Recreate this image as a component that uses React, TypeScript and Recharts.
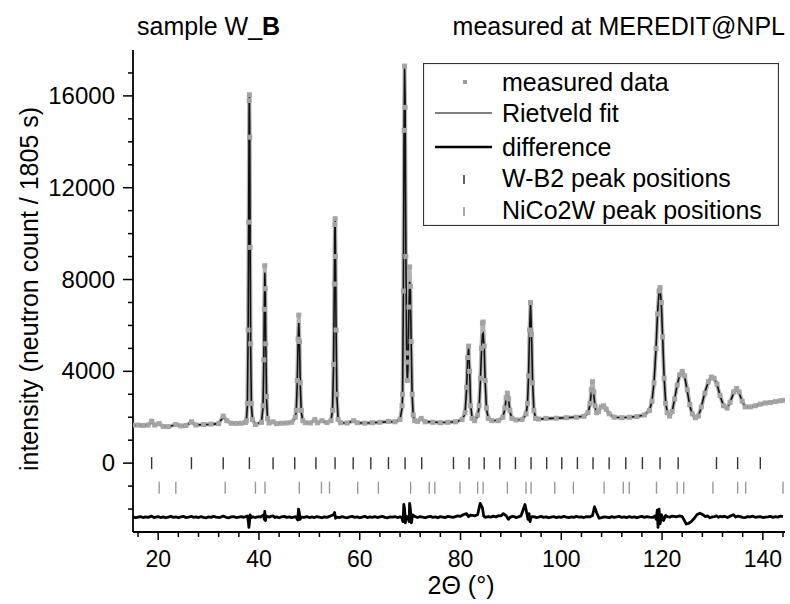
import React from "react";
import { ComposedChart, Line, Scatter, XAxis, YAxis, Legend } from "recharts";

const FONT = "'Liberation Sans', Arial, sans-serif";

// 2theta grid of the measured pattern (deg)
const twoTheta = [
  15.0, 16.0, 17.0, 18.0, 18.7, 19.3, 20.2, 21.0, 22.0, 23.5, 24.5, 25.5, 26.6, 27.5, 29.0, 30.5, 32.0, 32.9, 33.6,
  34.5, 35.5, 36.5, 37.3, 37.5, 37.7, 37.85, 37.95, 38.05, 38.1, 38.17, 38.25, 38.35, 38.5, 38.7, 39.3, 40.5, 40.8,
  40.95, 41.05, 41.15, 41.25, 41.35, 41.5, 41.7, 42.0, 42.8, 43.5, 44.5, 45.5, 46.5, 47.2, 47.4, 47.6, 47.75, 47.9,
  48.05, 48.2, 48.4, 48.7, 49.2, 50.2, 51.1, 51.6, 52.5, 53.5, 54.3, 54.6, 54.8, 54.95, 55.05, 55.12, 55.2, 55.3,
  55.45, 55.7, 56.2, 57.5, 58.8, 59.5, 61.0, 62.5, 64.0, 65.7, 67.0, 68.0, 68.4, 68.5, 68.65, 68.8, 68.9, 69.0,
  69.15, 69.3, 69.45, 69.6, 69.75, 69.9, 70.05, 70.2, 70.4, 70.6, 70.9, 71.5, 72.2, 73.0, 74.5, 76.0, 77.5, 79.0,
  80.3, 80.9, 81.2, 81.4, 81.6, 81.8, 82.0, 82.3, 82.8, 83.4, 83.7, 83.95, 84.15, 84.35, 84.5, 84.7, 84.9, 85.15,
  85.5, 86.2, 87.5, 88.4, 88.8, 89.05, 89.3, 89.55, 89.8, 90.2, 91.0, 92.2, 93.0, 93.3, 93.5, 93.7, 93.9, 94.1,
  94.3, 94.55, 94.9, 95.5, 97.0, 99.0, 101.0, 103.0, 104.5, 105.3, 105.7, 105.95, 106.2, 106.45, 106.7, 107.0,
  107.4, 107.9, 108.4, 108.9, 109.5, 110.5, 112.0, 113.5, 115.0, 116.5, 117.5, 118.0, 118.4, 118.8, 119.1, 119.4,
  119.6, 119.85, 120.1, 120.4, 120.7, 121.0, 121.5, 122.0, 122.5, 123.0, 123.5, 124.0, 124.5, 125.0, 125.5, 126.0,
  126.6, 127.2, 127.8, 128.5, 129.2, 129.8, 130.3, 130.9, 131.5, 132.2, 132.9, 133.5, 134.2, 134.8, 135.3, 135.9,
  136.5, 137.5, 138.5, 139.5, 140.5, 141.5, 142.5, 143.5, 144.4,
];

const measured = [
  1650, 1660, 1640, 1660, 1830, 1660, 1720, 1600, 1590, 1680, 1620, 1640, 1800, 1660, 1680, 1700, 1720, 2050, 1850,
  1740, 1730, 1740, 1770, 1850, 2600, 5800, 10500, 15800, 16050, 14200, 9400, 5200, 2600, 1900, 1680, 1780, 2500,
  4500, 6700, 8600, 7600, 5200, 2900, 1950, 1750, 1800, 1720, 1740, 1750, 1780, 2000, 2300, 3600, 5400, 6450,
  5300, 3500, 2300, 1850, 1760, 1750, 1900, 1760, 1850, 1770, 1850, 2300, 4300, 7800, 10400, 10650, 9000, 5800,
  3000, 1900, 1760, 1750, 1850, 1760, 1740, 1760, 1780, 1820, 1800, 1900, 2500, 3000, 7500, 14500, 17300, 15500,
  9000, 4800, 3600, 4400, 6800, 8550, 7700, 5300, 3000, 2100, 1850, 1820, 1950, 1800, 1780, 1760, 1780, 1800,
  1900, 2200, 3300, 4600, 5100, 4000, 2500, 1950, 1850, 2100, 2500, 3700, 5000, 6100, 6150, 5100, 3600, 2400,
  1950, 1850, 1850, 2000, 2400, 2850, 3050, 2800, 2300, 1950, 1880, 1900, 2150, 2600, 3800, 5800, 7000, 5600,
  3500, 2300, 1950, 1920, 1950, 1960, 1980, 2000, 2040, 2200, 2600, 3200, 3550, 3100, 2500, 2200,
  2250, 2450, 2500, 2350, 2150, 2000, 1980, 2000, 2030, 2100, 2300, 2700, 3500, 5000, 6500, 7500,
  7650, 7000, 5500, 3700, 2600, 2200, 2050, 2250, 2800, 3400, 3850, 4000, 3800, 3200, 2550, 2150,
  1980, 2050, 2450, 3050, 3550, 3750, 3700, 3450, 2950, 2500, 2400, 2650, 3100, 3250, 3100, 2700,
  2450, 2450, 2500, 2570, 2620, 2640, 2680, 2720, 2740,
];

const rietveldFit = [
  1640, 1650, 1645, 1650, 1800, 1660, 1700, 1610, 1600, 1660, 1630, 1640, 1780, 1660, 1680, 1690, 1720, 2020, 1840,
  1740, 1730, 1740, 1770, 1850, 2500, 5600, 10400, 15600, 16000, 14300, 9500, 5000, 2500, 1950, 1700, 1800, 2400,
  4300, 6500, 8300, 7700, 5300, 2800, 1950, 1760, 1780, 1740, 1740, 1750, 1790, 1950, 2250, 3500, 5200, 6100,
  5200, 3400, 2200, 1850, 1760, 1760, 1860, 1760, 1820, 1770, 1850, 2300, 4200, 7600, 10300, 10600, 9000, 5900,
  3000, 1900, 1760, 1750, 1830, 1760, 1750, 1760, 1780, 1800, 1810, 1900, 2400, 2900, 7200, 14300, 17200, 15800,
  9500, 5000, 3500, 4400, 6600, 7900, 7500, 5400, 3000, 2100, 1850, 1830, 1930, 1810, 1790, 1770, 1780, 1800,
  1880, 2150, 3200, 4500, 5000, 4100, 2600, 1950, 1850, 2050, 2450, 3600, 4800, 5600, 5650, 5000, 3500, 2400,
  1950, 1860, 1860, 1980, 2350, 2800, 3000, 2750, 2250, 1950, 1880, 1900, 2100, 2600, 3800, 5700, 6950, 5600,
  3600, 2350, 1950, 1920, 1940, 1960, 1980, 2010, 2040, 2150, 2550, 3050, 3270, 3000, 2450, 2200,
  2250, 2450, 2520, 2380, 2150, 2000, 1990, 2000, 2030, 2100, 2300, 2700, 3500, 5000, 6500, 7450,
  7600, 7000, 5600, 3800, 2700, 2250, 2050, 2250, 2800, 3400, 3850, 3980, 3750, 3150, 2500, 2120,
  1960, 2030, 2450, 3100, 3550, 3720, 3700, 3450, 2950, 2500, 2380, 2650, 3050, 3200, 3050, 2700,
  2450, 2450, 2500, 2560, 2620, 2640, 2680, 2720, 2740,
];

// difference curve (already shifted below the tick rows)
const diffTheta = [
  15, 15.5, 16, 16.5, 17, 17.5, 18, 18.7, 19.2, 19.5, 20.0, 20.5, 21.0, 21.5, 22.0, 22.5, 23.0, 23.5, 24.0, 24.5,
  25.0, 25.5, 26.0, 26.6, 27.0, 27.5, 28.0, 28.5, 29.0, 29.5, 30.0, 30.5, 31.0, 31.5, 32.2, 32.9, 33.5, 34, 34.5,
  35, 35.5, 36, 36.5, 37, 37.7, 37.9, 38.0, 38.1, 38.25, 38.4, 38.8, 39.2, 39.5, 40.0, 40.3, 40.9, 41.05, 41.15,
  41.3, 41.45, 42, 42.4, 42.8, 43.2, 43.5, 44.0, 44.5, 45.0, 45.5, 46.0, 46.5, 47.3, 47.7, 47.85, 48.0, 48.15,
  48.4, 49, 49.5, 50, 50.5, 51, 51.5, 52, 52.5, 53, 53.5, 54, 54.8, 55.0, 55.2, 55.5, 56.0, 56.5, 57.0, 57.5, 58.0,
  58.5, 59.0, 59.5, 60.0, 60.5, 61.0, 61.5, 62.0, 62.5, 63.0, 63.5, 64.0, 64.5, 65.0, 65.5, 66.0, 66.5, 67.0,
  67.5, 68.0, 68.3, 68.6, 68.75, 68.9, 69.05, 69.2, 69.6, 69.8, 69.9, 70.05, 70.25, 70.5, 70.9, 71.5, 72.0, 72.5,
  73.0, 73.5, 74.0, 74.5, 75.0, 75.5, 76.0, 76.5, 77.0, 77.5, 78.0, 78.5, 79.0, 79.5, 80.0, 80.5, 81.2, 81.6,
  82.0, 82.4, 82.8, 83.4, 83.9, 84.35, 84.6, 84.9, 85.5, 86.0, 86.5, 87.0, 87.5, 88.0, 88.5, 89.1, 89.5, 89.8,
  90.3, 90.7, 91, 91.5, 92, 92.8, 93.4, 93.6, 93.8, 94.0, 94.3, 94.7, 95, 95.5, 96, 96.5, 97, 97.5, 98, 98.5, 99,
  99.5, 100, 100.5, 101, 101.5, 102, 102.5, 103, 103.5, 104, 104.5, 105, 105.7, 106.2, 106.6, 107.0, 107.5, 108.0,
  108.5, 109.0, 109.5, 110.0, 110.5, 111.0, 111.5, 112.0, 112.5, 113.0, 113.5, 114.0, 114.5, 115.0, 115.5, 116.0,
  116.5, 117.0, 117.5, 118.2, 118.6, 118.85, 119.05, 119.2, 119.4, 119.6, 119.9, 120.3, 120.7, 121, 121.5, 122,
  122.4, 122.8, 123.5, 124.0, 124.3, 124.8, 125.3, 125.8, 126.4, 126.9, 127.5, 128.2, 128.6, 129, 129.5, 130,
  130.4, 130.8, 131.2, 131.5, 132.0, 132.3, 133, 133.6, 134.2, 134.6, 135, 135.5, 136, 136.5, 137, 137.5, 138,
  138.5, 139, 139.5, 140, 140.5, 141, 141.5, 142, 142.5, 143, 143.5, 144,
];

const difference = [
  -2340, -2380, -2350, -2330, -2370, -2340, -2360, -2310, -2370, -2350, -2330, -2370, -2340, -2380, -2350, -2320,
  -2360, -2340, -2380, -2340, -2320, -2370, -2350, -2320, -2360, -2340, -2370, -2330, -2360, -2380, -2340, -2360,
  -2320, -2350, -2370, -2310, -2360, -2380, -2340, -2330, -2370, -2350, -2330, -2360, -2300, -2550, -2800, -2600,
  -2250, -2380, -2340, -2370, -2350, -2330, -2350, -2250, -2450, -2100, -2500, -2300, -2350, -2320, -2300, -2370,
  -2340, -2380, -2340, -2320, -2360, -2340, -2370, -2330, -2480, -2000, -2150, -2450, -2350, -2360, -2330, -2370,
  -2340, -2370, -2330, -2350, -2380, -2340, -2360, -2320, -2250, -2150, -2400, -2350, -2370, -2330, -2360, -2380,
  -2340, -2320, -2360, -2340, -2380, -2350, -2320, -2370, -2340, -2360, -2330, -2370, -2340, -2320, -2360, -2380,
  -2340, -2350, -2330, -2370, -2340, -2360, -2550, -1800, -2000, -2600, -2300, -2400, -2550, -1750, -2000, -2600,
  -2250, -2320, -2370, -2330, -2350, -2380, -2340, -2320, -2360, -2340, -2380, -2330, -2350, -2370, -2320, -2340,
  -2360, -2330, -2300, -2320, -2250, -2200, -2330, -2260, -2280, -2300, -2250, -1750, -1950, -2300, -2360, -2330,
  -2350, -2310, -2340, -2290, -2300, -2200, -2300, -2450, -2360, -2320, -2330, -2370, -2340, -2300, -1800, -2450,
  -2200, -2550, -2360, -2330, -2340, -2370, -2350, -2320, -2360, -2340, -2380, -2350, -2330, -2370, -2340, -2360,
  -2320, -2350, -2370, -2340, -2360, -2320, -2350, -2340, -2370, -2330, -2340, -2280, -1900, -2150, -2400, -2370,
  -2340, -2350, -2380, -2330, -2360, -2340, -2320, -2360, -2340, -2370, -2330, -2360, -2340, -2380, -2340, -2320,
  -2360, -2330, -2350, -2360, -2300, -2450, -2050, -2800, -2000, -2650, -2250, -2500, -2280, -2330, -2350, -2310,
  -2320, -2340, -2300, -2330, -2450, -2650, -2620, -2550, -2400, -2250, -2180, -2260, -2330, -2300, -2380, -2340,
  -2330, -2300, -2360, -2320, -2340, -2310, -2370, -2300, -2250, -2350, -2310, -2330, -2360, -2370, -2330, -2340,
  -2310, -2360, -2340, -2330, -2370, -2350, -2340, -2320, -2360, -2330, -2350, -2310, -2330, -2300,
];

// reflection positions (deg)
const wb2Peaks = [
  18.7, 26.6, 32.9, 38.1, 42.8, 47.1, 51.3, 55.1, 58.7, 62.2, 65.7, 69.0, 72.3, 78.6, 81.7, 84.7, 87.8, 90.9,
  94.0, 97.1, 100.1, 103.2, 106.3, 109.5, 112.8, 116.1, 119.6, 123.2, 130.8, 135.0, 139.5,
];
const nico2wPeaks = [
  20.2, 23.5, 33.3, 39.3, 41.2, 48.0, 52.4, 54.0, 59.6, 63.7, 70.1, 73.8, 74.9, 79.9, 83.4, 84.5, 89.3, 93.0,
  94.0, 98.7, 102.4, 108.5, 112.3, 113.5, 118.9, 123.0, 124.3, 130.1, 135.0, 136.6, 144.0,
];
const WB2_ROW = 0;
const NICO_ROW = -1070;

const xTicks = [
  16, 20, 24, 28, 32, 36, 40, 44, 48, 52, 56, 60, 64, 68, 72, 76, 80, 84, 88, 92, 96, 100, 104, 108, 112, 116, 120,
  124, 128, 132, 136, 140, 144,
];
const yTicks = [
  -2000, -1000, 0, 1000, 2000, 3000, 4000, 5000, 6000, 7000, 8000, 9000, 10000, 11000, 12000, 13000, 14000, 15000,
  16000, 17000,
];

const measuredRows = twoTheta.map((x, i) => ({ x, y: measured[i] }));
const fitRows = twoTheta.map((x, i) => ({ x, y: rietveldFit[i] }));
const diffRows = diffTheta.map((x, i) => ({ x, y: difference[i] }));
const wb2Rows = wb2Peaks.map((x) => ({ x, y: WB2_ROW }));
const nicoRows = nico2wPeaks.map((x) => ({ x, y: NICO_ROW }));

const BottomTick = ({ x, y, payload }: any) => {
  const major = payload.value % 20 === 0;
  return (
    <g>
      <line x1={x} x2={x} y1={y} y2={y + (major ? 8 : 5)} stroke="#000" strokeWidth={1.5} />
      {major && (
        <text x={x} y={y + 35} textAnchor="middle" fontSize={23} fontFamily={FONT} fill="#000">
          {payload.value}
        </text>
      )}
    </g>
  );
};

const TopTick = ({ x, y, payload }: any) => {
  const major = payload.value % 20 === 0;
  return <line x1={x} x2={x} y1={y} y2={y + (major ? 8 : 4)} stroke="#000" strokeWidth={1.5} />;
};

const LeftTick = ({ x, y, payload }: any) => {
  const major = payload.value >= 0 && payload.value % 4000 === 0;
  return (
    <g>
      <line x1={x} x2={x - (major ? 10 : 5)} y1={y} y2={y} stroke="#000" strokeWidth={1.5} />
      {major && (
        <text x={x - 18} y={y + 8} textAnchor="end" fontSize={24} fontFamily={FONT} fill="#000">
          {payload.value}
        </text>
      )}
    </g>
  );
};

const RightTick = ({ x, y, payload }: any) => {
  const major = payload.value >= 0 && payload.value % 4000 === 0;
  return <line x1={x} x2={x - (major ? 7 : 4)} y1={y} y2={y} stroke="#000" strokeWidth={1.5} />;
};

const SquareDot = (p: any) => (
  <rect key={`m-${p.index}`} x={p.cx - 2.5} y={p.cy - 2.5} width={5} height={5} fill="#a4a4a4" />
);

const tickMark = (color: string) => (p: any) =>
  <line x1={p.cx} x2={p.cx} y1={p.cy - 6} y2={p.cy + 6} stroke={color} strokeWidth={1.4} />;

const LegendBox = () => (
  <svg width={356} height={163} style={{ display: "block" }}>
    <rect x={0.5} y={0.5} width={355} height={162} fill="#fff" stroke="#333" strokeWidth={1.2} />
    <rect x={40} y={17} width={4} height={4} fill="#9b9b9b" />
    <line x1={12} x2={69} y1={50} y2={50} stroke="#555" strokeWidth={1.3} />
    <line x1={12} x2={69} y1={84} y2={84} stroke="#000" strokeWidth={2.4} />
    <line x1={41} x2={41} y1={112} y2={121} stroke="#222" strokeWidth={1.4} />
    <line x1={41} x2={41} y1={144} y2={153} stroke="#888" strokeWidth={1.4} />
    <g fontFamily={FONT} fontSize={25} fill="#000">
      <text x={79} y={28}>measured data</text>
      <text x={79} y={59}>Rietveld fit</text>
      <text x={79} y={93}>difference</text>
      <text x={79} y={124}>W-B2 peak positions</text>
      <text x={79} y={156}>NiCo2W peak positions</text>
    </g>
  </svg>
);

export default function App() {
  return (
    <div style={{ position: "absolute", left: 0, top: 0, width: 790, height: 604, background: "#fff" }}>
      <ComposedChart width={790} height={604} margin={{ top: 50, right: 5, bottom: 32, left: 60 }}>
        <XAxis
          xAxisId="b"
          type="number"
          dataKey="x"
          domain={[15, 144.4]}
          allowDataOverflow
          ticks={xTicks}
          interval={0}
          height={40}
          tickSize={0}
          tickMargin={0}
          tickLine={false}
          tick={<BottomTick />}
          axisLine={{ stroke: "#000", strokeWidth: 1.8 }}
        />
        <XAxis
          xAxisId="t"
          orientation="top"
          type="number"
          dataKey="x"
          domain={[15, 144.4]}
          allowDataOverflow
          ticks={xTicks}
          interval={0}
          height={0}
          tickSize={0}
          tickMargin={0}
          tickLine={false}
          tick={<TopTick />}
          axisLine={{ stroke: "#000", strokeWidth: 1.8 }}
        />
        <YAxis
          yAxisId="l"
          type="number"
          dataKey="y"
          domain={[-3000, 18000]}
          allowDataOverflow
          ticks={yTicks}
          interval={0}
          width={73}
          tickSize={0}
          tickMargin={0}
          tickLine={false}
          tick={<LeftTick />}
          axisLine={{ stroke: "#000", strokeWidth: 1.8 }}
        />
        <YAxis
          yAxisId="r"
          orientation="right"
          type="number"
          dataKey="y"
          domain={[-3000, 18000]}
          allowDataOverflow
          ticks={yTicks}
          interval={0}
          width={0}
          tickSize={0}
          tickMargin={0}
          tickLine={false}
          tick={<RightTick />}
          axisLine={{ stroke: "#000", strokeWidth: 1.8 }}
        />
        <Line
          xAxisId="b"
          yAxisId="l"
          data={measuredRows}
          dataKey="y"
          type="linear"
          stroke="#b2b2b2"
          strokeWidth={4}
          strokeLinejoin="round"
          dot={SquareDot}
          activeDot={false}
          isAnimationActive={false}
        />
        <Line
          xAxisId="b"
          yAxisId="l"
          data={fitRows}
          dataKey="y"
          type="linear"
          stroke="#111"
          strokeWidth={1.6}
          dot={false}
          activeDot={false}
          isAnimationActive={false}
        />
        <Line
          xAxisId="b"
          yAxisId="l"
          data={diffRows}
          dataKey="y"
          type="linear"
          stroke="#000"
          strokeWidth={2.8}
          strokeLinejoin="round"
          dot={false}
          activeDot={false}
          isAnimationActive={false}
        />
        <Scatter xAxisId="b" yAxisId="l" data={wb2Rows} dataKey="y" shape={tickMark("#333")} isAnimationActive={false} />
        <Scatter xAxisId="b" yAxisId="l" data={nicoRows} dataKey="y" shape={tickMark("#999")} isAnimationActive={false} />
        <Legend
          layout="vertical"
          align="center"
          verticalAlign="middle"
          wrapperStyle={{ position: "absolute", left: 423, top: 63, width: 356, height: 163 }}
          content={() => <LegendBox />}
        />
      </ComposedChart>
      <svg
        width={790}
        height={604}
        style={{ position: "absolute", left: 0, top: 0, pointerEvents: "none" }}
        fontFamily={FONT}
        fill="#000"
      >
        <text x={137} y={35} fontSize={25}>
          sample W_<tspan fontWeight="bold">B</tspan>
        </text>
        <text x={785} y={35} fontSize={25} textAnchor="end">
          measured at MEREDIT@NPL
        </text>
        <text transform="translate(38,289) rotate(-90)" textAnchor="middle" fontSize={25}>
          intensity (neutron count / 1805 s)
        </text>
        <text x={461} y={594} textAnchor="middle" fontSize={25}>
          2Θ (°)
        </text>
      </svg>
    </div>
  );
}
